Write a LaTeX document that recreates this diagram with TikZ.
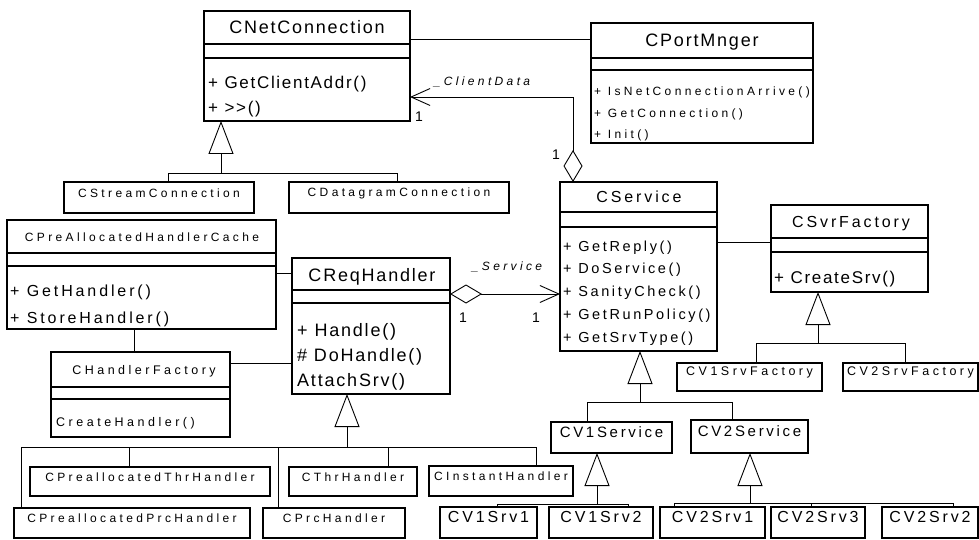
\documentclass[tikz,border=0pt]{standalone}
\usepackage{fontspec}
\setmainfont{Liberation Sans}
\newfontfamily\umlbig[LetterSpace=10]{Liberation Sans}
\newfontfamily\umlmid[LetterSpace=18]{Liberation Sans}
\newfontfamily\umlsmall[LetterSpace=28]{Liberation Sans}
\usetikzlibrary{arrows.meta,positioning,calc,fit}

\begin{document}
\begin{tikzpicture}[x=1pt,y=-1pt,
  cls/.style={draw,line width=1.1pt,inner sep=0pt,outer sep=0pt},
  fbig/.style 2 args={font=\umlbig\fontsize{#1}{#2}\selectfont},
  fmid/.style 2 args={font=\umlmid\fontsize{#1}{#2}\selectfont},
  fsmall/.style 2 args={font=\umlsmall\fontsize{#1}{#2}\selectfont},
  ttl/.style={anchor=base,inner sep=0pt},
  ops/.style={anchor=base west,align=left,inner sep=0pt},
  lnk/.style={line width=0.9pt},
  agg/.style={lnk,{Diamond[open,length=32pt,width=19pt]}-{Straight Barb[length=19pt,width=17pt]}},
  gen/.style={lnk,-{Triangle[open,length=33pt,width=25pt]}},
  note/.style={font=\umlsmall\itshape\fontsize{12}{14}\selectfont,inner sep=0pt},
  mult/.style={font=\umlbig\fontsize{14}{16}\selectfont,inner sep=0pt}]
\useasboundingbox (0,0) rectangle (979,540);

% classes with compartments (ops nodes sit on their last baseline)
\node[cls,fit={(204,11)(410,121)}] (net) {};
\node[ttl,fbig={18}{20}] (net-t) at (307,34) {CNetConnection};
\draw[cls] ([yshift=-33pt]net.north west) -- ([yshift=-33pt]net.north east);
\draw[cls] ([yshift=-47pt]net.north west) -- ([yshift=-47pt]net.north east);
\node[ops,fbig={17}{25}] (net-o) at (208,114) {+ GetClientAddr()\\+ {>}{>}()};

\node[cls,fit={(591,23)(813,143)}] (port) {};
\node[ttl,fbig={18}{20}] (port-t) at (702,47) {CPortMnger};
\draw[cls] ([yshift=-35pt]port.north west) -- ([yshift=-35pt]port.north east);
\draw[cls] ([yshift=-47pt]port.north west) -- ([yshift=-47pt]port.north east);
\node[ops,fsmall={12}{21.5}] (port-o) at (594,139) {+ IsNetConnectionArrive()\\+ GetConnection()\\+ Init()};

\node[cls,fit={(560,182)(717,351)}] (svc) {};
\node[ttl,fmid={16}{18}] (svc-t) at (639,203) {CService};
\draw[cls] ([yshift=-30pt]svc.north west) -- ([yshift=-30pt]svc.north east);
\draw[cls] ([yshift=-45pt]svc.north west) -- ([yshift=-45pt]svc.north east);
\node[ops,fmid={14.5}{22.75}] (svc-o) at (563,342) {+ GetReply()\\+ DoService()\\+ SanityCheck()\\+ GetRunPolicy()\\+ GetSrvType()};

\node[cls,fit={(771,205)(928,292)}] (fac) {};
\node[ttl,fmid={16}{18}] (fac-t) at (851,227) {CSvrFactory};
\draw[cls] ([yshift=-33pt]fac.north west) -- ([yshift=-33pt]fac.north east);
\draw[cls] ([yshift=-47pt]fac.north west) -- ([yshift=-47pt]fac.north east);
\node[ops,fbig={17}{25}] (fac-o) at (774,283) {+ CreateSrv()};

\node[cls,fit={(292,258)(450,394)}] (req) {};
\node[ttl,fbig={18}{20}] (req-t) at (372,281) {CReqHandler};
\draw[cls] ([yshift=-32pt]req.north west) -- ([yshift=-32pt]req.north east);
\draw[cls] ([yshift=-45pt]req.north west) -- ([yshift=-45pt]req.north east);
\node[ops,fbig={18}{25}] (req-o) at (297,386) {+ Handle()\\\# DoHandle()\\AttachSrv()};

\node[cls,fit={(7,220)(276,329)}] (cache) {};
\node[ttl,fsmall={12}{14}] (cache-t) at (142,241) {CPreAllocatedHandlerCache};
\draw[cls] ([yshift=-33pt]cache.north west) -- ([yshift=-33pt]cache.north east);
\draw[cls] ([yshift=-46pt]cache.north west) -- ([yshift=-46pt]cache.north east);
\node[ops,fmid={16}{27}] (cache-o) at (10,323) {+ GetHandler()\\+ StoreHandler()};

\node[cls,fit={(51,352)(230,437)}] (hfac) {};
\node[ttl,fsmall={12.5}{14}] (hfac-t) at (144,374) {CHandlerFactory};
\draw[cls] ([yshift=-35pt]hfac.north west) -- ([yshift=-35pt]hfac.north east);
\draw[cls] ([yshift=-47pt]hfac.north west) -- ([yshift=-47pt]hfac.north east);
\node[ops,fsmall={12.5}{14}] (hfac-o) at (56,426) {CreateHandler()};

% plain classes
\node[cls,fsmall={12}{14},fit={(64,182)(254,213)}] (stream) {CStreamConnection};
\node[cls,fsmall={12}{14},fit={(289,182)(509,213)}] (dgram) {CDatagramConnection};
\node[cls,fsmall={12.5}{14},fit={(677,363)(822,391)}] (v1fac) {CV1SrvFactory};
\node[cls,fsmall={12.5}{14},fit={(843,363)(978,391)}] (v2fac) {CV2SrvFactory};
\node[cls,fmid={15}{17},fit={(551,422)(672,453)}] (v1svc) {CV1Service};
\node[cls,fmid={15}{17},fit={(691,420)(808,453)}] (v2svc) {CV2Service};
\node[cls,fmid={16}{18},fit={(440,507)(537,538)}] (v1s1) {CV1Srv1};
\node[cls,fmid={16}{18},fit={(549,507)(653,538)}] (v1s2) {CV1Srv2};
\node[cls,fmid={16}{18},fit={(660,507)(765,538)}] (v2s1) {CV2Srv1};
\node[cls,fmid={16}{18},fit={(771,507)(865,538)}] (v2s3) {CV2Srv3};
\node[cls,fmid={16}{18},fit={(882,507)(978,538)}] (v2s2) {CV2Srv2};
\node[cls,fsmall={12}{14},fit={(30,467)(270,496)}] (pthr) {CPreallocatedThrHandler};
\node[cls,fsmall={12}{14},fit={(14,508)(250,538)}] (pprc) {CPreallocatedPrcHandler};
\node[cls,fsmall={12}{14},fit={(289,467)(417,496)}] (thr) {CThrHandler};
\node[cls,fsmall={12}{14},fit={(263,508)(405,538)}] (prc) {CPrcHandler};
\node[cls,fsmall={12}{14},fit={(429,466)(573,496)}] (inst) {CInstantHandler};

% associations
\draw[lnk] ([yshift=-28pt]net.north east) -- ([yshift=-28pt]net.north east -| port.west);
\draw[agg] ([xshift=13pt]svc.north west) |- ([yshift=-86pt]net.north east);
\node[note] (cd-l) at (482,82) {\_ClientData};
\node[mult] (cd-m1) at (419,117) {1};
\node[mult] (cd-m2) at (556,155) {1};
\draw[agg] ([yshift=-36pt]req.north east) -- ([yshift=-36pt]req.north east -| svc.west);
\node[note] (sv-l) at (507,267) {\_Service};
\node[mult] (sv-m1) at (463,318) {1};
\node[mult] (sv-m2) at (536,318) {1};
\draw[lnk] ([yshift=-37pt]fac.north west) -- ([yshift=-37pt]fac.north west -| svc.east);
\draw[lnk] ([yshift=-15pt]req.north west) -- ([yshift=-15pt]req.north west -| cache.east);
\draw[lnk] ([xshift=-7pt]cache.south) -- ([xshift=-7pt]cache.south |- hfac.north);
\draw[lnk] ([yshift=-11pt]hfac.north east) -- ([yshift=-11pt]hfac.north east -| req.west);

% generalizations
\coordinate (netj) at (221,173);
\draw[gen] (netj) -- (netj |- net.south);
\draw[lnk] ([xshift=9pt]stream.north) |- (netj);
\draw[lnk] ([xshift=-2pt]dgram.north) |- (netj);

\coordinate (facj) at (818,343);
\draw[gen] (facj) -- (facj |- fac.south);
\draw[lnk] ([xshift=6.5pt]v1fac.north) |- (facj);
\draw[lnk] ([xshift=-5.5pt]v2fac.north) |- (facj);

\coordinate (svcj) at (640,402);
\draw[gen] (svcj) -- (svcj |- svc.south);
\draw[lnk] ([xshift=-24.5pt]v1svc.north) |- (svcj);
\draw[lnk] ([xshift=-17.5pt]v2svc.north) |- (svcj);

\coordinate (v1j) at (597,504);
\draw[gen] (v1j) -- (v1j |- v1svc.south);
\draw[lnk] ([xshift=8.5pt]v1s1.north) |- (v1j);
\draw[lnk] ([xshift=27pt]v1s2.north) |- (v1j);

\coordinate (v2j) at (750,503);
\draw[gen] (v2j) -- (v2j |- v2svc.south);
\draw[lnk] ([xshift=-38.5pt]v2s1.north) |- (v2j);
\draw[lnk] ([xshift=-7pt]v2s3.north) |- (v2j);
\draw[lnk] ([xshift=23pt]v2s2.north) |- (v2j);

\coordinate (reqj) at (347,447);
\draw[gen] (reqj) -- (reqj |- req.south);
\draw[lnk] ([xshift=-111pt]pprc.north) |- (reqj);
\draw[lnk] ([xshift=-21pt]pthr.north) |- (reqj);
\draw[lnk] ([xshift=-56pt]prc.north) |- (reqj);
\draw[lnk] ([xshift=35pt]thr.north) |- (reqj);
\draw[lnk] ([xshift=35pt]inst.north) |- (reqj);
\end{tikzpicture}
\end{document}
